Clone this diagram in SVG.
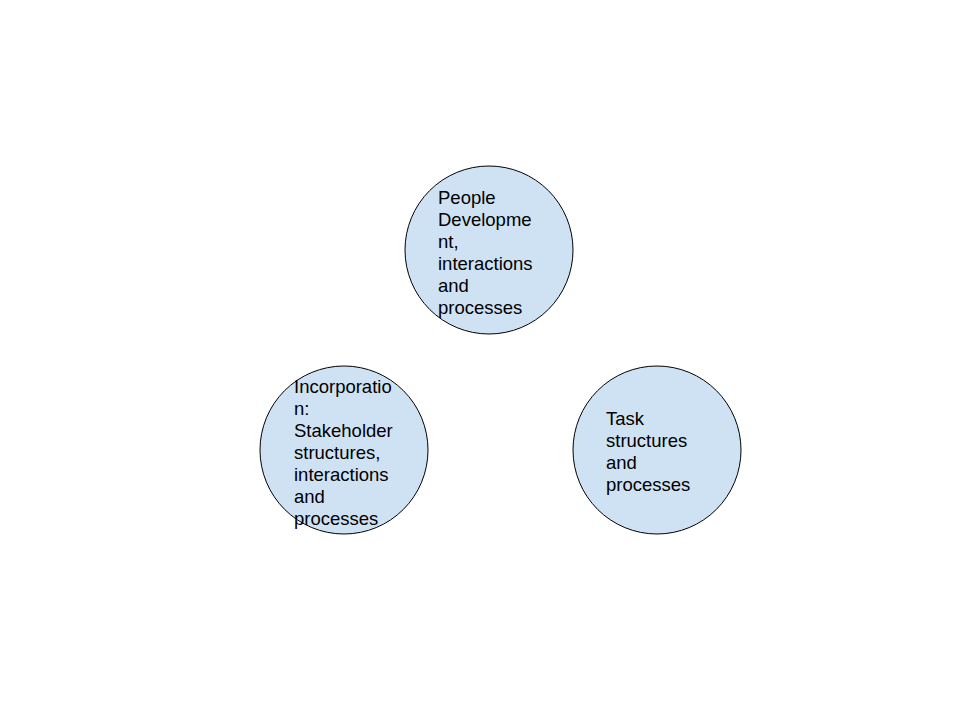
<svg xmlns="http://www.w3.org/2000/svg" width="960" height="720" viewBox="0 0 960 720">
<style>
.n{fill:#cfe2f3;stroke:#000;stroke-width:1}
.t{font-family:"Liberation Sans",Arial,sans-serif;font-size:18.5px;fill:#000}
</style>
<rect width="960" height="720" fill="#fff"/>
<g id="connectors"></g>
<g id="people">
<circle class="n" cx="489" cy="250" r="84"/>
<text class="t" x="438" y="204">People</text>
<text class="t" x="438" y="226">Developme</text>
<text class="t" x="438" y="248">nt,</text>
<text class="t" x="438" y="270">interactions</text>
<text class="t" x="438" y="292">and</text>
<text class="t" x="438" y="314">processes</text>
</g>
<g id="incorporation">
<circle class="n" cx="344" cy="450" r="84"/>
<text class="t" x="294" y="393">Incorporatio</text>
<text class="t" x="294" y="415">n:</text>
<text class="t" x="294" y="437">Stakeholder</text>
<text class="t" x="294" y="459">structures,</text>
<text class="t" x="294" y="481">interactions</text>
<text class="t" x="294" y="503">and</text>
<text class="t" x="294" y="525">processes</text>
</g>
<g id="task">
<circle class="n" cx="657" cy="450" r="84"/>
<text class="t" x="606" y="425">Task</text>
<text class="t" x="606" y="447">structures</text>
<text class="t" x="606" y="469">and</text>
<text class="t" x="606" y="491">processes</text>
</g>
</svg>
